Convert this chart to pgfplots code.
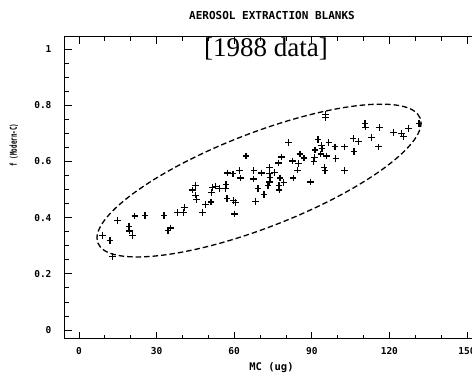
\documentclass[border=0pt]{standalone}
\usepackage{pgfplots}
\pgfplotsset{compat=1.18}
\usepackage{fontspec}
\setmainfont{Liberation Serif}
\newfontfamily\monob[BoldFont={DejaVu Sans Mono Bold}]{DejaVu Sans Mono}
\begin{document}
\begin{tikzpicture}
\useasboundingbox (0pt,0pt) rectangle (472pt,374pt);
\begin{axis}[
  at={(65pt,35pt)}, anchor=south west,
  scale only axis, width=410pt, height=302pt,
  xmin=-5.4, xmax=153.1, ymin=-0.032, ymax=1.043,
  xtick={0,30,60,90,120,150},
  xticklabels={0,30,60,90,120,150},
  ytick={0,0.2,0.4,0.6,0.8,1},
  yticklabels={0,0.2,0.4,0.6,0.8,1},
  minor x tick num=2, minor y tick num=3,
  ytick pos=left, xtick pos=both,
  tick align=inside,
  major tick length=7pt, minor tick length=4pt,
  tick style={black, line width=0.8pt},
  axis line style={black, line width=1pt},
  ticklabel style={font={\monob\bfseries\fontsize{9.5}{10}\selectfont}},
  xticklabel style={yshift=-5pt},
  yticklabel style={xshift=-10pt},
  clip=false,
]
\addplot[only marks, mark=+, mark size=3.3pt, mark options={line width=1.3pt}, black] coordinates {
(9.2,0.336) (12.0,0.318) (13.0,0.261) (14.8,0.389) (19.3,0.368) (19.6,0.352)
(20.6,0.336) (21.6,0.406) (25.5,0.407) (32.9,0.407) (34.4,0.353) (35.3,0.363)
(38.0,0.418) (40.3,0.418) (40.7,0.437) (43.9,0.498) (45.1,0.515) (45.1,0.480)
(45.5,0.465) (47.8,0.418) (49.0,0.446) (51.0,0.456) (51.3,0.489) (51.7,0.508)
(52.7,0.512) (54.2,0.503) (56.7,0.503) (56.8,0.518) (57.5,0.559) (59.5,0.556)
(62.1,0.568) (62.4,0.541) (57.2,0.469) (59.7,0.460) (60.4,0.453) (60.2,0.413)
(64.6,0.619) (67.6,0.567) (67.4,0.538) (70.5,0.559) (69.2,0.503) (68.2,0.458)
(71.5,0.483) (73.6,0.578) (73.6,0.556) (73.8,0.543) (73.6,0.527) (73.1,0.515)
(75.5,0.560) (77.2,0.595) (78.4,0.616) (77.3,0.515) (77.4,0.498) (77.7,0.541)
(79.2,0.524) (81.0,0.667) (82.5,0.602) (82.8,0.541) (84.5,0.569) (84.9,0.593)
(85.5,0.627) (87.0,0.612) (89.6,0.527) (90.8,0.599) (91.1,0.615) (91.3,0.641)
(92.4,0.679) (93.7,0.657) (93.9,0.645) (93.5,0.626) (94.8,0.578) (95.1,0.567)
(95.6,0.619) (95.4,0.768) (95.4,0.756) (96.6,0.667) (99.0,0.652) (99.3,0.610)
(102.6,0.652) (102.6,0.567) (106.0,0.681) (108.0,0.670) (106.3,0.635)
(110.6,0.735) (110.7,0.722) (113.0,0.686) (116.1,0.721) (115.7,0.652)
(121.5,0.704) (124.7,0.700) (125.4,0.688) (127.4,0.718) (131.5,0.735)
};
\draw[black, line width=1.3pt, dash pattern=on 5.5pt off 3pt, rotate around={21.2:(axis cs:69.6,0.532)}]
  (axis cs:69.6,0.532) ellipse [x radius=172.8pt, y radius=47.15pt];
\end{axis}
\node at (272pt,358pt) {\monob\bfseries\fontsize{11}{12}\selectfont AEROSOL EXTRACTION BLANKS};
\node at (271.5pt,6pt) {\monob\bfseries\fontsize{10.5}{11}\selectfont MC (ug)};
\node[rotate=90] at (14pt,229pt) {\scalebox{0.62}[1]{\monob\bfseries\fontsize{9.5}{10}\selectfont f (Modern-C)}};
\node at (266pt,325pt) {\fontsize{27}{30}\selectfont [1988 data]};
\end{tikzpicture}
\end{document}
